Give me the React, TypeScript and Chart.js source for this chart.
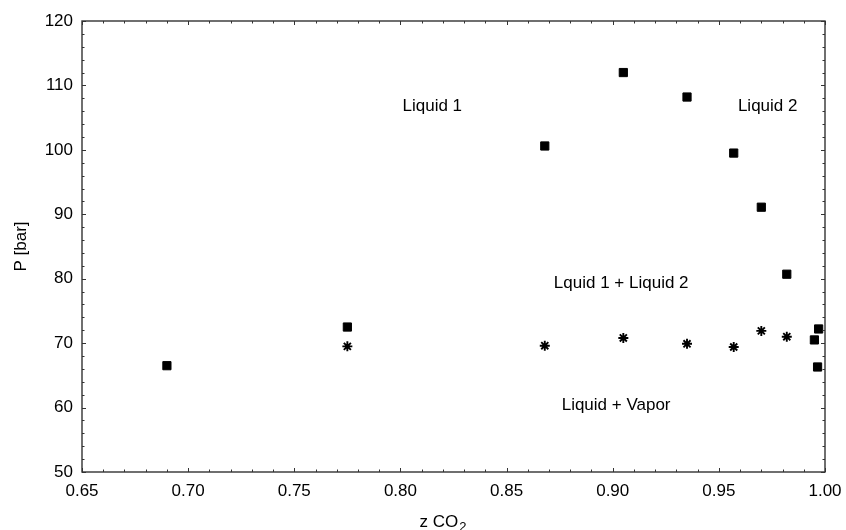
import React, { useEffect, useRef } from "react";
import { Chart, registerables } from "chart.js";

Chart.register(...registerables);

const FONT = '"Liberation Sans", Arial, sans-serif';

// Liquid-liquid / bubble points (filled squares)
const zSquares = [0.690, 0.775, 0.868, 0.905, 0.935, 0.957, 0.970, 0.982, 0.995, 0.997, 0.9965];
const pSquares = [66.5, 72.5, 100.6, 112.0, 108.2, 99.5, 91.1, 80.7, 70.5, 72.2, 66.3];

// Three-phase / vapor boundary points (asterisks)
const zStars = [0.775, 0.868, 0.905, 0.935, 0.957, 0.970, 0.982];
const pStars = [69.5, 69.6, 70.8, 69.9, 69.4, 71.9, 71.0];

// Axis ticks
const xTicks = [0.65, 0.70, 0.75, 0.80, 0.85, 0.90, 0.95, 1.00];
const yTicks = [50, 60, 70, 80, 90, 100, 110, 120];
const minorPerMajor = 5;

// Region labels (in data coordinates)
const regionLabels = ["Liquid 1", "Liquid 2", "Lquid 1 + Liquid 2", "Liquid + Vapor"];
const regionZ = [0.815, 0.973, 0.904, 0.9016];
const regionP = [106.7, 106.7, 79.3, 60.4];

function minorValues(ticks: number[], n: number) {
  const out: { v: number; major: boolean }[] = [];
  for (let i = 0; i < ticks.length; i++) {
    out.push({ v: ticks[i], major: true });
    if (i < ticks.length - 1) {
      const step = (ticks[i + 1] - ticks[i]) / n;
      for (let k = 1; k < n; k++) out.push({ v: ticks[i] + k * step, major: false });
    }
  }
  return out;
}

const framePlugin = {
  id: "frame",
  afterDraw(chart: any) {
    const { ctx, chartArea: a, scales } = chart;
    const x = scales.x;
    const y = scales.y;
    ctx.save();

    // region labels
    ctx.fillStyle = "#000";
    ctx.font = `17px ${FONT}`;
    ctx.textAlign = "center";
    ctx.textBaseline = "middle";
    regionLabels.forEach((t, i) => {
      ctx.fillText(t, x.getPixelForValue(regionZ[i]), y.getPixelForValue(regionP[i]));
    });

    // tick marks (inward, all four sides)
    ctx.strokeStyle = "#333";
    ctx.lineWidth = 1;
    ctx.beginPath();
    minorValues(xTicks, minorPerMajor).forEach(({ v, major }) => {
      const px = Math.round(x.getPixelForValue(v)) + 0.5;
      const len = major ? 4 : 2.5;
      ctx.moveTo(px, a.bottom);
      ctx.lineTo(px, a.bottom - len);
      ctx.moveTo(px, a.top);
      ctx.lineTo(px, a.top + len);
    });
    minorValues(yTicks, minorPerMajor).forEach(({ v, major }) => {
      const py = Math.round(y.getPixelForValue(v)) + 0.5;
      const len = major ? 4 : 2.5;
      ctx.moveTo(a.left, py);
      ctx.lineTo(a.left + len, py);
      ctx.moveTo(a.right, py);
      ctx.lineTo(a.right - len, py);
    });
    ctx.stroke();

    // frame
    ctx.lineWidth = 1.4;
    ctx.strokeStyle = "#333";
    ctx.strokeRect(a.left, a.top, a.right - a.left, a.bottom - a.top);

    // x axis title with subscript
    ctx.fillStyle = "#000";
    ctx.textAlign = "left";
    ctx.textBaseline = "alphabetic";
    const main = "z CO";
    const sub = "2";
    ctx.font = `17px ${FONT}`;
    const w1 = ctx.measureText(main).width;
    ctx.font = `13px ${FONT}`;
    const w2 = ctx.measureText(sub).width;
    const cx = (a.left + a.right) / 2 - 11;
    const startX = cx - (w1 + w2) / 2;
    const base = a.bottom + 55;
    ctx.font = `17px ${FONT}`;
    ctx.fillText(main, startX, base);
    ctx.font = `13px ${FONT}`;
    ctx.fillText(sub, startX + w1 + 1, base + 4);

    ctx.restore();
  },
};

export default function App() {
  const ref = useRef<HTMLCanvasElement | null>(null);

  useEffect(() => {
    if (!ref.current) return;
    const chart = new Chart(ref.current, {
      type: "scatter",
      data: {
        datasets: [
          {
            label: "L-L",
            data: zSquares.map((v, i) => ({ x: v, y: pSquares[i] })),
            pointStyle: "rect",
            pointRadius: 5.8,
            pointHoverRadius: 5.8,
            backgroundColor: "#000",
            borderColor: "#000",
            borderWidth: 1,
            showLine: false,
            clip: false as any,
          },
          {
            label: "L-V",
            data: zStars.map((v, i) => ({ x: v, y: pStars[i] })),
            pointStyle: "star",
            pointRadius: 5,
            pointHoverRadius: 5,
            backgroundColor: "#000",
            borderColor: "#000",
            borderWidth: 1.9,
            showLine: false,
            clip: false as any,
          },
        ],
      },
      options: {
        animation: false,
        responsive: true,
        maintainAspectRatio: false,
        events: [],
        layout: { padding: { top: 21, right: 21, left: 0, bottom: 0 } },
        plugins: {
          legend: { display: false },
          tooltip: { enabled: false },
        },
        scales: {
          x: {
            type: "linear",
            min: 0.65,
            max: 1.0,
            grid: { display: false, drawTicks: false },
            border: { display: false },
            afterBuildTicks: (s: any) => {
              s.ticks = xTicks.map((v) => ({ value: v }));
            },
            afterFit: (s: any) => {
              s.height = 58;
              s.paddingLeft = 0;
              s.paddingRight = 0;
            },
            ticks: {
              padding: 9,
              color: "#000",
              font: { size: 17, family: FONT },
              maxRotation: 0,
              autoSkip: false,
              callback: (v: any) => Number(v).toFixed(2),
            },
          },
          y: {
            type: "linear",
            min: 50,
            max: 120,
            grid: { display: false, drawTicks: false },
            border: { display: false },
            afterBuildTicks: (s: any) => {
              s.ticks = yTicks.map((v) => ({ value: v }));
            },
            afterFit: (s: any) => {
              s.width = 82;
              s.paddingTop = 0;
              s.paddingBottom = 0;
            },
            title: {
              display: true,
              text: "P [bar]",
              color: "#000",
              font: { size: 17, family: FONT },
              padding: { top: 11, bottom: 0 },
            },
            ticks: {
              padding: 9,
              color: "#000",
              font: { size: 17, family: FONT },
              autoSkip: false,
              callback: (v: any) => String(v),
            },
          },
        },
      },
      plugins: [framePlugin],
    });
    return () => chart.destroy();
  }, []);

  return (
    <div style={{ position: "absolute", left: 0, top: 0, width: 846, height: 530, background: "#fff" }}>
      <canvas ref={ref} />
    </div>
  );
}
